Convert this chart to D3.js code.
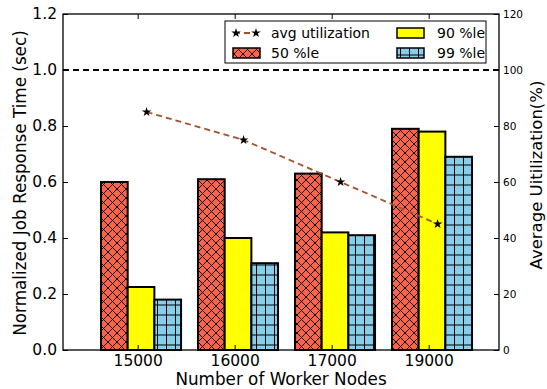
<!DOCTYPE html>
<html>
<head>
<meta charset="utf-8">
<script src="https://cdn.jsdelivr.net/npm/d3@7"></script>
<style>
  body { margin: 0; background: #fff; }
  text { font-family: "DejaVu Sans", sans-serif; fill: #000; }
</style>
</head>
<body>
<svg id="chart" width="547" height="389"></svg>
<script>
// ---------- data

const NODES = ["15000", "16000", "17000", "19000"];
const P50 = [0.60, 0.61, 0.63, 0.79];
const P90 = [0.225, 0.40, 0.42, 0.78];
const P99 = [0.18, 0.31, 0.41, 0.69];
const UTIL = [85, 75, 60, 45];

const LEFT_TICKS = [0, 0.2, 0.4, 0.6, 0.8, 1.0, 1.2];
const RIGHT_TICKS = [0, 20, 40, 60, 80, 100, 120];

const SERIES = [
  { name: "50 %le", values: P50, fill: "url(#hatch-x)" },
  { name: "90 %le", values: P90, fill: "#ffff00" },
  { name: "99 %le", values: P99, fill: "url(#hatch-plus)" },
];

const BAR_W = 0.275;
const TICK_OFFSET = 0.378;
const LINE_OFFSET = 0.47;

// ---------- layout

const svg = d3.select("#chart");
const mLeft = 63, mRight = 499, mTop = 14, mBottom = 350;

const x = d3.scaleLinear().domain([-0.392, 4.103]).range([mLeft, mRight]);
const y = d3.scaleLinear().domain([0, 1.2]).range([mBottom, mTop]);
const y2 = d3.scaleLinear().domain([0, 120]).range([mBottom, mTop]);

// hatch patterns
const defs = svg.append("defs");

const px = defs.append("pattern")
  .attr("id", "hatch-x")
  .attr("patternUnits", "userSpaceOnUse")
  .attr("width", 9).attr("height", 9);
px.append("rect").attr("width", 9).attr("height", 9).attr("fill", "#ff6347");
px.append("path")
  .attr("d", "M0,0L9,9M9,0L0,9M-1,8L1,10M8,-1L10,1M-1,1L1,-1M8,10L10,8")
  .attr("stroke", "#000").attr("stroke-width", 1);

const pp = defs.append("pattern")
  .attr("id", "hatch-plus")
  .attr("patternUnits", "userSpaceOnUse")
  .attr("width", 9).attr("height", 10);
pp.append("rect").attr("width", 9).attr("height", 10).attr("fill", "#87ceeb");
pp.append("path")
  .attr("d", "M4.5,0V10M0,5H9")
  .attr("stroke", "#000").attr("stroke-width", 1);

// ---------- bars

SERIES.forEach(function (s, k) {
  svg.append("g")
    .selectAll("rect")
    .data(s.values)
    .enter()
    .append("rect")
    .attr("x", function (d, i) { return x(i + k * BAR_W); })
    .attr("y", function (d) { return y(d); })
    .attr("width", x(BAR_W) - x(0))
    .attr("height", function (d) { return y(0) - y(d); })
    .attr("fill", s.fill)
    .attr("stroke", "#000")
    .attr("stroke-width", 2);
});

// dashed reference line at 1.0
svg.append("line")
  .attr("x1", mLeft).attr("x2", mRight)
  .attr("y1", y(1.0)).attr("y2", y(1.0))
  .attr("stroke", "#000")
  .attr("stroke-width", 1.8)
  .attr("stroke-dasharray", "6,4");

// utilization line
const LINE_COLOR = "#a0522d";
const line = d3.line()
  .x(function (d, i) { return x(i + LINE_OFFSET); })
  .y(function (d) { return y2(d); });

svg.append("path")
  .datum(UTIL)
  .attr("d", line)
  .attr("fill", "none")
  .attr("stroke", LINE_COLOR)
  .attr("stroke-width", 1.8)
  .attr("stroke-dasharray", "6,4");

const star = d3.symbol().type(d3.symbolStar).size(28);
svg.append("g")
  .selectAll("path")
  .data(UTIL)
  .enter()
  .append("path")
  .attr("transform", function (d, i) { return `translate(${x(i + LINE_OFFSET)},${y2(d)})`; })
  .attr("d", star)
  .attr("fill", "#000");

// ---------- axes

svg.append("rect")
  .attr("x", mLeft).attr("y", mTop)
  .attr("width", mRight - mLeft).attr("height", mBottom - mTop)
  .attr("fill", "none").attr("stroke", "#000").attr("stroke-width", 1.3);

// left axis, ticks inward
const leftAxis = svg.append("g").attr("transform", `translate(${mLeft},0)`)
  .call(d3.axisLeft(y).tickValues(LEFT_TICKS).tickFormat(d3.format(".1f")).tickSizeInner(-5).tickSizeOuter(0).tickPadding(6));
leftAxis.select(".domain").remove();
leftAxis.selectAll("text").attr("font-size", 15.5).attr("font-family", "DejaVu Sans");

// right axis
const rightAxis = svg.append("g").attr("transform", `translate(${mRight},0)`)
  .call(d3.axisRight(y2).tickValues(RIGHT_TICKS).tickSizeInner(-5).tickSizeOuter(0).tickPadding(4));
rightAxis.select(".domain").remove();
rightAxis.selectAll("text").attr("font-size", 10.5).attr("font-family", "DejaVu Sans");

// bottom axis
const tickPos = NODES.map(function (d, i) { return i + TICK_OFFSET; });
const bottomAxis = svg.append("g").attr("transform", `translate(0,${mBottom})`)
  .call(d3.axisBottom(x).tickValues(tickPos).tickFormat(function (d, i) { return NODES[i]; })
    .tickSizeInner(-5).tickSizeOuter(0).tickPadding(5));
bottomAxis.select(".domain").remove();
bottomAxis.selectAll("text").attr("font-size", 15.5).attr("font-family", "DejaVu Sans");

// top ticks
const topAxis = svg.append("g").attr("transform", `translate(0,${mTop})`)
  .call(d3.axisTop(x).tickValues(tickPos).tickFormat("").tickSizeInner(-5).tickSizeOuter(0));
topAxis.select(".domain").remove();

// axis labels
svg.append("text")
  .attr("x", 281).attr("y", 385)
  .attr("text-anchor", "middle").attr("font-size", 16.8)
  .text("Number of Worker Nodes");

svg.append("text")
  .attr("transform", `translate(21,183) rotate(-90)`)
  .attr("text-anchor", "middle").attr("dominant-baseline", "middle").attr("font-size", 16.8)
  .text("Normalized Job Response Time (sec)");

svg.append("text")
  .attr("transform", `translate(537,175) rotate(-90)`)
  .attr("text-anchor", "middle").attr("dominant-baseline", "middle").attr("font-size", 16.5)
  .text("Average Uitilization(%)");

// ---------- legend

const legend = svg.append("g");
legend.append("rect")
  .attr("x", 225).attr("y", 21).attr("width", 261).attr("height", 42)
  .attr("fill", "#fff").attr("stroke", "#000").attr("stroke-width", 1);

legend.append("line")
  .attr("x1", 234).attr("x2", 258).attr("y1", 33).attr("y2", 33)
  .attr("stroke", LINE_COLOR).attr("stroke-width", 1.8).attr("stroke-dasharray", "6,4");
[236, 256].forEach(function (cx) {
  legend.append("path").attr("transform", `translate(${cx},33)`).attr("d", star).attr("fill", "#000");
});

const legendItems = [
  { label: "avg utilization", px: null, tx: 271, ty: 33 },
  { label: "90 %le", fill: SERIES[1].fill, px: 397, tx: 437, ty: 33 },
  { label: "50 %le", fill: SERIES[0].fill, px: 233, tx: 271, ty: 53 },
  { label: "99 %le", fill: SERIES[2].fill, px: 397, tx: 437, ty: 53 },
];
legendItems.forEach(function (it) {
  if (it.px !== null) {
    legend.append("rect")
      .attr("x", it.px).attr("y", it.ty - 5).attr("width", 27).attr("height", 10)
      .attr("fill", it.fill).attr("stroke", "#000").attr("stroke-width", 1.5);
  }
  legend.append("text")
    .attr("x", it.tx).attr("y", it.ty)
    .attr("dominant-baseline", "central").attr("font-size", 14)
    .text(it.label);
});
</script>
</body>
</html>
